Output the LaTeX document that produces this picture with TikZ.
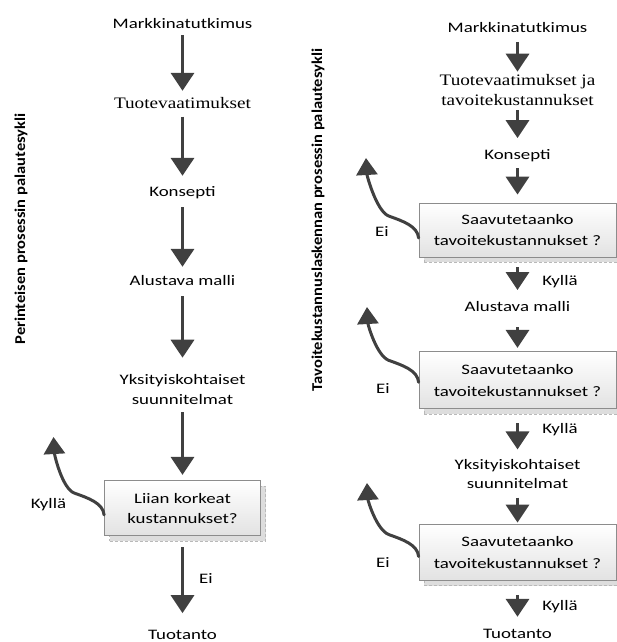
\documentclass[tikz,border=0pt]{standalone}
\usepackage{fontspec}
\usetikzlibrary{arrows.meta,calc,shadows}
\newfontfamily\sansf[FakeStretch=1.3]{Carlito}
\newfontfamily\seriff[FakeStretch=1.2]{Liberation Serif}
\newfontfamily\sidef[FakeStretch=1.1]{Carlito}
\definecolor{arrowgray}{HTML}{404040}
\definecolor{boxline}{HTML}{8C8C8C}
\definecolor{boxlow}{HTML}{E2E2E2}
\definecolor{shadowgray}{HTML}{DDDDDD}

\begin{document}
\begin{tikzpicture}[x=1pt,y=-1pt,
  word/.style={font=\sansf\fontsize{14.5}{20}\selectfont, inner sep=0pt,
    text height=11pt, text depth=3.5pt, anchor=base},
  sword/.style={font=\seriff\fontsize{16}{19.5}\selectfont, inner sep=0pt,
    text height=11pt, text depth=3.5pt, anchor=base},
  lines/.style={font=\sansf\fontsize{14.5}{20}\selectfont, inner sep=0pt, align=center},
  slines/.style={font=\seriff\fontsize{16}{20}\selectfont, inner sep=0pt, align=center},
  decision/.style={rectangle, draw=boxline, line width=0.8pt, top color=white,
    bottom color=boxlow, align=center, inner sep=0pt,
    general shadow={shadow xshift=5pt, shadow yshift=-5pt, fill=shadowgray,
      draw=gray!55, densely dashed, line width=0.6pt}},
  flow/.style={draw=arrowgray, line width=3.5pt,
    -{Triangle[width=23pt,length=18pt]}},
  back/.style={draw=arrowgray, line width=3pt, line cap=round,
    -{Triangle[width=21pt,length=17pt]}},
  side/.style={font=\sidef\bfseries\fontsize{15}{17}\selectfont, inner sep=0pt, rotate=90}
]
\useasboundingbox (0,0) rectangle (616,642);

% ---------- side titles ----------
\node[side] (s1) at (21,229) {Perinteisen prosessin palautesykli};
\node[side] (s2) at (318,220) {Tavoitekustannuslaskennan prosessin palautesykli};

% ---------- traditional process ----------
\node[word]  (m1) at (182.5,28.7) {Markkinatutkimus};
\node[sword] (t1) at (182.5,108) {Tuotevaatimukset};
\node[word]  (k1) at (182.5,196) {Konsepti};
\node[word]  (a1) at (182.5,285) {Alustava malli};
\node[lines] (y1) at (182.5,390) {Yksityiskohtaiset\\suunnitelmat};
\node[decision, minimum width=156pt, minimum height=55pt,
  font=\sansf\fontsize{14.5}{20}\selectfont] (d1) at (182.5,508.3)
  {Liian korkeat\\kustannukset?};
\node[word]  (p1) at (182.5,639.3) {Tuotanto};

\draw[flow, shorten <=3pt, shorten >=6pt] (m1.south) -- (t1.north);
\draw[flow, shorten <=5pt, shorten >=9pt] (t1.south) -- (k1.north);
\draw[flow, shorten <=7.5pt, shorten >=7pt] (k1.south) -- (a1.north);
\draw[flow, shorten <=7.5pt, shorten >=17pt] (a1.south) -- (y1.north);
\draw[flow, shorten <=7pt, shorten >=5.5pt] (y1.south) -- (d1.north);
\draw[flow, shorten <=11pt, shorten >=15pt] (d1.south) -- (p1.north);

\node[word] (e1) at (206,583) {Ei};
\node[word] (ky1) at (48.5,508) {Kyllä};
\coordinate (u1) at (53.5,437);
\draw[back] ($(d1.west)+(0,6.7)$) .. controls +(-1,-12) and +(14,5) .. ++(-30,-22)
  .. controls +(-12,-5) and +(1,18) .. (u1);

% ---------- target costing process ----------
\node[word]   (m2) at (517.5,32.3) {Markkinatutkimus};
\node[slines] (t2) at (517.5,90.5) {Tuotevaatimukset ja\\tavoitekustannukset};
\node[word]   (k2) at (517.5,159.3) {Konsepti};
\node[decision, minimum width=197pt, minimum height=54pt,
  font=\sansf\fontsize{14.5}{21.5}\selectfont] (d2) at (517.5,230)
  {Saavutetaanko\\tavoitekustannukset ?};
\node[word]   (a2) at (517.5,311.7) {Alustava malli};
\node[decision, minimum width=197pt, minimum height=57pt,
  font=\sansf\fontsize{14.5}{21.5}\selectfont] (d3) at (517.5,380.3)
  {Saavutetaanko\\tavoitekustannukset ?};
\node[lines, font=\sansf\fontsize{14.5}{18.5}\selectfont] (y2) at (517.5,474)
  {Yksityiskohtaiset\\suunnitelmat};
\node[decision, minimum width=197pt, minimum height=56pt,
  font=\sansf\fontsize{14.5}{21.5}\selectfont] (d4) at (517.5,552.5)
  {Saavutetaanko\\tavoitekustannukset ?};
\node[word]   (p2) at (517.5,638) {Tuotanto};

\draw[flow, shorten <=6pt, shorten >=3pt] (m2.south) -- (t2.north);
\draw[flow, shorten <=4pt, shorten >=10pt] (t2.south) -- (k2.north);
\draw[flow, shorten <=5pt, shorten >=8pt] (k2.south) -- (d2.north);
\draw[flow, shorten <=10pt, shorten >=10.5pt] (d2.south) -- (a2.north);
\draw[flow, shorten <=12pt, shorten >=3.5pt] (a2.south) -- (d3.north);
\draw[flow, shorten <=14pt, shorten >=10pt] (d3.south) -- (y2.north);
\draw[flow, shorten <=9pt, shorten >=1.5pt] (y2.south) -- (d4.north);
\draw[flow, shorten <=14pt, shorten >=10pt] (d4.south) -- (p2.north);

\node[word] (ky2) at (560,285) {Kyllä};
\node[word] (ky3) at (560,433) {Kyllä};
\node[word] (ky4) at (560,610) {Kyllä};
\node[word] (e2) at (382,236) {Ei};
\node[word] (e3) at (383,393) {Ei};
\node[word] (e4) at (383,567) {Ei};

\coordinate (u2) at (366,158);
\coordinate (u3) at (367,307);
\coordinate (u4) at (367,483);
\draw[back] ($(d2.west)+(0,8)$) .. controls +(-1,-12) and +(14,5) .. ++(-30,-22)
  .. controls +(-12,-5) and +(1,18) .. (u2);
\draw[back] ($(d3.west)+(0,2)$) .. controls +(-1,-12) and +(14,5) .. ++(-30,-22)
  .. controls +(-12,-5) and +(1,18) .. (u3);
\draw[back] ($(d4.west)+(0,4)$) .. controls +(-1,-12) and +(14,5) .. ++(-30,-22)
  .. controls +(-12,-5) and +(1,18) .. (u4);
\end{tikzpicture}
\end{document}
